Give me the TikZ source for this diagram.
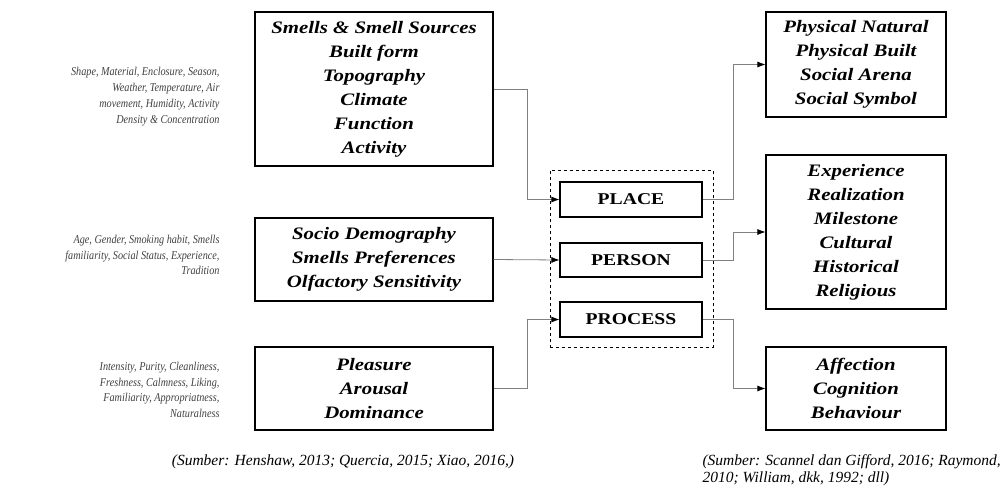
\documentclass[tikz,border=0pt]{standalone}
\usepackage{fontspec}
\setmainfont{Liberation Serif}
\newfontfamily\boxfont{Liberation Serif}[FakeStretch=1.19]
\newfontfamily\notefont{Liberation Serif}[FakeStretch=0.85]
\usetikzlibrary{arrows.meta,positioning}

\tikzset{
  bigbox/.style={draw=black,line width=1.1pt,align=center,inner sep=0pt,
    font=\boxfont\fontsize{17.5}{24}\selectfont\bfseries\itshape},
  keybox/.style={draw=black,line width=1.1pt,align=center,inner sep=0pt,
    minimum width=142pt,font=\boxfont\fontsize{16.5}{20}\selectfont\bfseries},
  note/.style={align=right,anchor=east,text=black!75,
    font=\notefont\fontsize{12}{15.8}\selectfont\itshape},
  source/.style={font=\fontsize{15.5}{17}\selectfont\itshape},
  link/.style={draw=black!50,line width=0.8pt,
    -{Latex[length=8pt,width=6pt,color=black]}}
}

\begin{document}
\begin{tikzpicture}[x=1pt,y=-1pt]
\useasboundingbox (0,0) rectangle (1007,490);

%% left boxes
\node[bigbox,minimum width=238pt,minimum height=154pt] (smells) at (374,89)
  {Smells \& Smell Sources\\Built form\\Topography\\Climate\\Function\\Activity};
\node[bigbox,minimum width=238pt,minimum height=83pt] (socio) at (374,259.5)
  {Socio Demography\\Smells Preferences\\Olfactory Sensitivity};
\node[bigbox,minimum width=238pt,minimum height=83pt] (pleasure) at (374,388.5)
  {Pleasure\\Arousal\\Dominance};

%% notes
\node[note] (n1) at (223,96.5) {Shape, Material, Enclosure, Season,\\Weather, Temperature, Air\\movement, Humidity, Activity\\Density \& Concentration};
\node[note] (n2) at (223,255) {Age, Gender, Smoking habit, Smells\\familiarity, Social Status, Experience,\\Tradition};
\node[note] (n3) at (223,390) {Intensity, Purity, Cleanliness,\\Freshness, Calmness, Liking,\\Familiarity, Appropriatness,\\Naturalness};

%% middle
\node[draw=black,dashed,line width=0.9pt,minimum width=163pt,minimum height=177pt] (group) at (631.5,258.5) {};
\node[keybox,minimum height=35pt] (place) at (631,199.5) {PLACE};
\node[keybox,minimum height=34pt] (person) at (631,260) {PERSON};
\node[keybox,minimum height=35pt] (process) at (631,319.5) {PROCESS};

%% right boxes
\node[bigbox,minimum width=180pt,minimum height=105pt] (physical) at (856,64.5)
  {Physical Natural\\Physical Built\\Social Arena\\Social Symbol};
\node[bigbox,minimum width=180pt,minimum height=154pt] (experience) at (856,232)
  {Experience\\Realization\\Milestone\\Cultural\\Historical\\Religious};
\node[bigbox,minimum width=180pt,minimum height=83pt] (affection) at (856,388.5)
  {Affection\\Cognition\\Behaviour};

%% links
\draw[link] (smells.east) -- ++(34,0) |- (place.west);
\draw[link] (socio.east) -- (person.west);
\draw[link] (pleasure.east) -- ++(34,0) |- (process.west);
\draw[link] (place.east) -- ++(31,0) |- (physical.west);
\draw[link] (person.east) -- ++(31,0) |- (experience.west);
\draw[link] (process.east) -- ++(31,0) |- (affection.west);

%% sources
\node[source] (src1) at (343,462) {(Sumber: Henshaw, 2013; Quercia, 2015; Xiao, 2016,)};
\node[source,align=left,anchor=west] (src2) at (699,470) {(Sumber: Scannel dan Gifford, 2016; Raymond,\\2010; William, dkk, 1992; dll)};
\end{tikzpicture}
\end{document}
